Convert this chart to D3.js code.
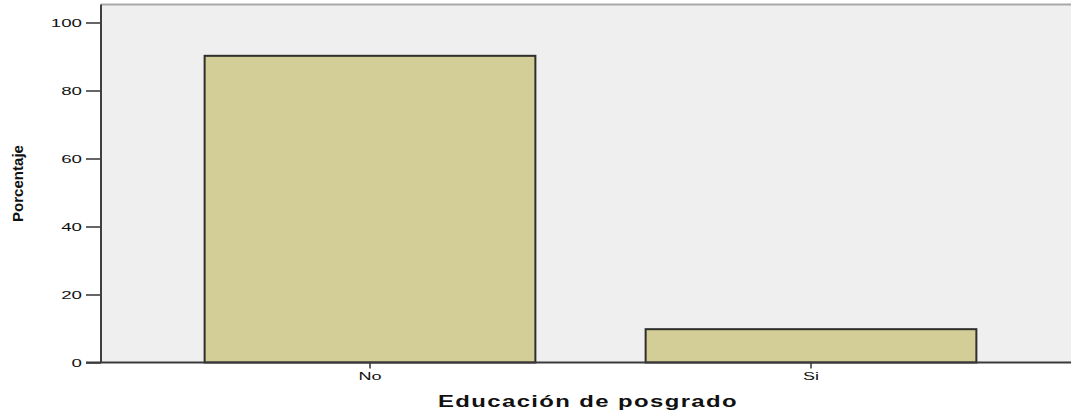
<!DOCTYPE html>
<html>
<head>
<meta charset="utf-8">
<script src="https://cdn.jsdelivr.net/npm/d3@7"></script>
<style>
  body { margin: 0; background: #fff; }
  text { font-family: Arial, "Liberation Sans", sans-serif; fill: #111; }
</style>
</head>
<body>
<div id="chart"></div>
<script>
const categories = ['No', 'Si'];
const percentages = [90.2, 9.8];
const yTicks = [0, 20, 40, 60, 80, 100];
const xTitle = 'Educación de posgrado';
const yTitle = 'Porcentaje';

const width = 1071, height = 412;
const plot = { left: 101, top: 4.5, right: 1075, bottom: 362.5 };

const svg = d3.select('#chart').append('svg')
    .attr('width', width)
    .attr('height', height);

const y = d3.scaleLinear()
    .domain([0, 100])
    .range([plot.bottom, 22.5]);

const x = d3.scaleBand()
    .domain(categories)
    .range([149.5, 1031.5])
    .paddingInner(0.25)
    .paddingOuter(0.125);

// widen text like the original export (glyphs + spacing)
function stretch(sel, k) {
    sel.each(function() {
        const len = this.getComputedTextLength();
        this.setAttribute('textLength', len * k);
        this.setAttribute('lengthAdjust', 'spacingAndGlyphs');
    });
}

// plot background
svg.append('rect')
    .attr('x', plot.left)
    .attr('y', plot.top)
    .attr('width', plot.right - plot.left)
    .attr('height', plot.bottom - plot.top)
    .attr('fill', '#efefef');

svg.append('line')
    .attr('x1', plot.left).attr('x2', plot.right)
    .attr('y1', plot.top).attr('y2', plot.top)
    .attr('stroke', '#a8a8a8')
    .attr('stroke-width', 2);

// bars
svg.selectAll('rect.bar')
    .data(percentages)
    .join('rect')
    .attr('class', 'bar')
    .attr('x', (d, i) => x(categories[i]))
    .attr('y', d => y(d))
    .attr('width', x.bandwidth())
    .attr('height', d => y(0) - y(d))
    .attr('fill', '#d3ce98')
    .attr('stroke', '#2e2e2a')
    .attr('stroke-width', 2);

// y axis
const yAxis = svg.append('g')
    .attr('transform', `translate(${plot.left},0)`)
    .call(d3.axisLeft(y).tickValues(yTicks).tickSize(15).tickPadding(4));
yAxis.select('.domain').remove();
yAxis.selectAll('.tick line').attr('stroke', '#333').attr('stroke-width', 1.5);
yAxis.selectAll('.tick text')
    .attr('font-size', 11)
    .attr('fill', '#222')
    .attr('dy', '0.34em')
    .call(stretch, 1.7);

svg.append('line')
    .attr('x1', plot.left).attr('x2', plot.left)
    .attr('y1', plot.top).attr('y2', plot.bottom)
    .attr('stroke', '#404040')
    .attr('stroke-width', 2);

// x axis
const xAxis = svg.append('g')
    .attr('transform', `translate(0,${plot.bottom})`)
    .call(d3.axisBottom(x).tickSize(6).tickPadding(4).tickSizeOuter(0));
xAxis.select('.domain').remove();
xAxis.selectAll('.tick line').attr('stroke', '#333').attr('stroke-width', 1.5);
xAxis.selectAll('.tick text')
    .attr('font-size', 11)
    .attr('fill', '#222')
    .attr('dy', '0.71em')
    .call(stretch, 1.64);

svg.append('line')
    .attr('x1', 86).attr('x2', plot.right)
    .attr('y1', plot.bottom).attr('y2', plot.bottom)
    .attr('stroke', '#3a3a3a')
    .attr('stroke-width', 2);

// titles
svg.append('text')
    .attr('x', 588)
    .attr('y', 406.5)
    .attr('text-anchor', 'middle')
    .attr('font-size', 17)
    .attr('font-weight', 'bold')
    .attr('letter-spacing', 1)
    .text(xTitle)
    .call(sel => sel.attr('textLength', 300).attr('lengthAdjust', 'spacingAndGlyphs'));

svg.append('text')
    .attr('transform', 'translate(22.5,183.5) rotate(-90)')
    .attr('text-anchor', 'middle')
    .attr('font-size', 15.5)
    .attr('font-weight', 'bold')
    .text(yTitle)
    .call(sel => sel.attr('textLength', 77).attr('lengthAdjust', 'spacingAndGlyphs'));
</script>
</body>
</html>
